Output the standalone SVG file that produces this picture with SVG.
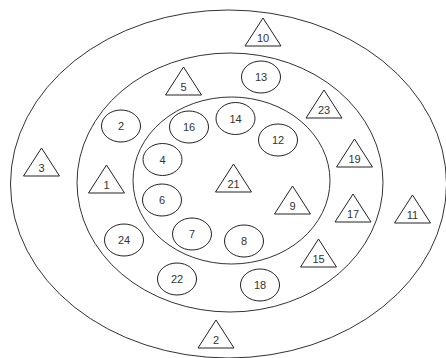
<svg xmlns="http://www.w3.org/2000/svg" xmlns:xlink="http://www.w3.org/1999/xlink" width="446" height="358" viewBox="0 0 446 358">
<style>
.ring{fill:none;stroke:#333;stroke-width:1}
.sh{fill:#fff;stroke:#222;stroke-width:1}
text{font-family:"Liberation Sans",Arial,sans-serif;font-size:11px;fill:#333;text-anchor:middle}
</style>
<defs>
<path id="tri" d="M0,-28 L18,0 L-18,0 Z"/>
</defs>
<rect width="446" height="358" fill="#fff"/>
<g id="rings">
<ellipse class="ring" cx="228.5" cy="184" rx="218" ry="174"/>
<ellipse class="ring" cx="230" cy="182.5" rx="153" ry="129.5"/>
<ellipse class="ring" cx="231.5" cy="180.5" rx="98.5" ry="83.5"/>
</g>
<g id="connectors"/>
<g id="n5" transform="translate(183.5,95)"><use class="sh" xlink:href="#tri"/><text y="-4.5">5</text></g>
<g id="n3" transform="translate(41.5,176)"><use class="sh" xlink:href="#tri"/><text y="-4.5">3</text></g>
<g id="n10" transform="translate(263,46)"><use class="sh" xlink:href="#tri"/><text y="-4.5">10</text></g>
<g id="n23" transform="translate(324,118)"><use class="sh" xlink:href="#tri"/><text y="-4.5">23</text></g>
<g id="n19" transform="translate(354.5,167)"><use class="sh" xlink:href="#tri"/><text y="-4.5">19</text></g>
<g id="n1" transform="translate(106.5,193)"><use class="sh" xlink:href="#tri"/><text y="-4.5">1</text></g>
<g id="n21" transform="translate(233.5,192)"><use class="sh" xlink:href="#tri"/><text y="-4.5">21</text></g>
<g id="n9" transform="translate(292.5,214)"><use class="sh" xlink:href="#tri"/><text y="-4.5">9</text></g>
<g id="n17" transform="translate(353,222)"><use class="sh" xlink:href="#tri"/><text y="-4.5">17</text></g>
<g id="n11" transform="translate(412.5,223)"><use class="sh" xlink:href="#tri"/><text y="-4.5">11</text></g>
<g id="n15" transform="translate(318.5,267)"><use class="sh" xlink:href="#tri"/><text y="-4.5">15</text></g>
<g id="t2" transform="translate(216,348)"><use class="sh" xlink:href="#tri"/><text y="-4.5">2</text></g>
<g id="c2"><ellipse class="sh" cx="121" cy="126" rx="19.5" ry="16"/><text x="121" y="130">2</text></g>
<g id="c16"><ellipse class="sh" cx="189" cy="127" rx="19.5" ry="16"/><text x="189" y="131">16</text></g>
<g id="c4"><ellipse class="sh" cx="162.5" cy="159.5" rx="19.5" ry="16"/><text x="162.5" y="163.5">4</text></g>
<g id="c14"><ellipse class="sh" cx="235.5" cy="118.5" rx="19.5" ry="16"/><text x="235.5" y="122.5">14</text></g>
<g id="c13"><ellipse class="sh" cx="261" cy="77" rx="19.5" ry="16"/><text x="261" y="81">13</text></g>
<g id="c12"><ellipse class="sh" cx="278" cy="140" rx="19.5" ry="16"/><text x="278" y="144">12</text></g>
<g id="c6"><ellipse class="sh" cx="162" cy="200" rx="19.5" ry="16"/><text x="162" y="204">6</text></g>
<g id="c7"><ellipse class="sh" cx="192" cy="234" rx="19.5" ry="16"/><text x="192" y="238">7</text></g>
<g id="c24"><ellipse class="sh" cx="124" cy="240" rx="19.5" ry="16"/><text x="124" y="244">24</text></g>
<g id="c22"><ellipse class="sh" cx="177" cy="279" rx="19.5" ry="16"/><text x="177" y="283">22</text></g>
<g id="c8"><ellipse class="sh" cx="244" cy="241" rx="19.5" ry="16"/><text x="244" y="245">8</text></g>
<g id="c18"><ellipse class="sh" cx="260" cy="285" rx="19.5" ry="16"/><text x="260" y="289">18</text></g>
</svg>
